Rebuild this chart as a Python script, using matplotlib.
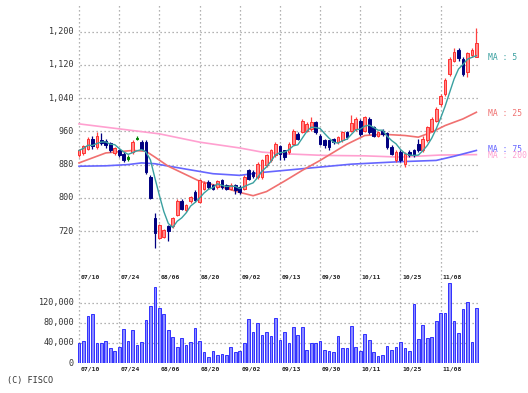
import numpy as np
import pandas as pd
import matplotlib
matplotlib.use("Agg")
import matplotlib.pyplot as plt

# daily bars, 07/10 .. 11/15
dates = ["07/10", "07/24", "08/06", "08/20", "09/02", "09/13", "09/30", "10/11", "10/25", "11/08"]
date_pos = [0, 9, 18, 27, 36, 45, 54, 63, 72, 81]

opens = [902, 908, 918, 942, 922, 938, 937, 931, 907, 914,
         906, 896, 910, 942, 934, 934, 850, 752, 704, 706,
         731, 731, 758, 792, 770, 792, 814, 790, 822, 838,
         830, 826, 842, 830, 822, 830, 826, 822, 866, 862,
         850, 850, 878, 890, 902, 924, 914, 910, 930, 954,
         959, 962, 966, 982, 950, 938, 938, 942, 934, 938,
         958, 962, 966, 986, 962, 990, 970, 950, 962, 955,
         922, 890, 910, 882, 910, 914, 930, 914, 938, 962,
         986, 1027, 1050, 1099, 1130, 1157, 1134, 1104, 1144, 1140]
highs = [918, 928, 946, 948, 958, 956, 942, 934, 922, 918,
         910, 904, 938, 948, 940, 938, 854, 763, 738, 726,
         734, 754, 796, 798, 786, 805, 818, 846, 840, 842,
         834, 842, 846, 834, 836, 834, 830, 854, 870, 866,
         886, 894, 906, 918, 934, 928, 916, 934, 966, 958,
         990, 982, 994, 986, 954, 942, 940, 944, 950, 962,
         960, 1000, 994, 990, 998, 994, 974, 962, 966, 958,
         926, 914, 914, 910, 914, 918, 942, 950, 974, 994,
         1018, 1050, 1088, 1138, 1160, 1160, 1138, 1152, 1160, 1208]
lows = [898, 904, 914, 918, 918, 926, 920, 910, 902, 898,
        886, 888, 906, 938, 914, 858, 798, 680, 700, 702,
        697, 728, 755, 770, 766, 788, 790, 788, 818, 822,
        818, 822, 822, 818, 818, 810, 810, 818, 842, 848,
        846, 846, 874, 886, 898, 890, 892, 906, 926, 938,
        955, 958, 962, 954, 926, 920, 916, 930, 930, 934,
        942, 958, 962, 950, 958, 954, 946, 946, 950, 918,
        902, 886, 886, 874, 898, 898, 910, 910, 934, 958,
        982, 1022, 1046, 1094, 1126, 1130, 1094, 1092, 1140, 1140]
closes = [914, 924, 942, 924, 950, 931, 926, 914, 919, 904,
          890, 896, 934, 942, 918, 862, 800, 716, 734, 722,
          719, 751, 792, 774, 782, 802, 794, 844, 836, 826,
          822, 840, 826, 822, 831, 818, 814, 850, 846, 852,
          882, 890, 902, 914, 930, 906, 898, 930, 962, 942,
          986, 978, 982, 958, 930, 926, 922, 934, 946, 958,
          946, 979, 990, 954, 994, 958, 950, 958, 954, 922,
          906, 910, 890, 906, 902, 902, 914, 942, 970, 990,
          1014, 1045, 1084, 1134, 1152, 1136, 1099, 1148, 1156, 1172]
volume = [40000, 44000, 95000, 98000, 40000, 41000, 44000, 31000, 25000, 32000,
          68000, 45000, 66000, 37000, 43000, 86000, 114000, 153000, 110000, 99000,
          66000, 53000, 32000, 50000, 37000, 43000, 71000, 44000, 23000, 13000,
          25000, 17000, 18000, 17000, 33000, 23000, 25000, 40000, 89000, 63000,
          81000, 56000, 63000, 54000, 91000, 47000, 63000, 40000, 72000, 57000,
          72000, 26000, 40000, 40000, 44000, 26000, 24000, 22000, 54000, 30000,
          30000, 74000, 32000, 24000, 59000, 47000, 22000, 15000, 17000, 35000,
          27000, 32000, 42000, 30000, 25000, 119000, 49000, 76000, 51000, 53000,
          84000, 101000, 101000, 160000, 84000, 61000, 108000, 123000, 42000, 111000]

# moving averages (bar index, price)
ma25_x = [0, 6, 12, 15, 17, 20, 27, 32, 36, 39, 42, 46, 50, 54, 60, 64, 68, 73, 76, 79, 82, 86, 89]
ma25_y = [884, 908, 914, 912, 898, 876, 840, 826, 813, 805, 815, 840, 866, 890, 929, 950, 953, 950, 946, 958, 974, 990, 1006]
ma75_x = [0, 6, 11, 14, 17, 24, 30, 36, 41, 50, 61, 72, 80, 84, 89]
ma75_y = [876, 877, 880, 884, 882, 869, 858, 854, 861, 870, 881, 887, 890, 900, 914]
ma200_x = [0, 9, 18, 27, 36, 41, 46, 55, 64, 72, 81, 89]
ma200_y = [978, 966, 954, 934, 920, 910, 906, 902, 901, 898, 903, 904]

price_ticks = [720, 800, 880, 960, 1040, 1120, 1200]
vol_ticks = [0, 40000, 80000, 120000]

W, H = 528, 393
fig = plt.figure(figsize=(W / 100, H / 100), dpi=100)
fig.patch.set_facecolor("white")

def box(left, top, right, bottom):
    return [left / W, 1 - bottom / H, (right - left) / W, (bottom - top) / H]

x0 = 79.0
step = 4.465
def xl(px):
    return (px - x0) / step

ax = fig.add_axes(box(75, 3, 480, 283))
axv = fig.add_axes(box(75, 283, 480, 363))
for a in (ax, axv):
    a.set_xlim(xl(75), xl(480))
    a.axis("off")
ax.set_ylim(594.8, 1269.1)
axv.set_ylim(0, 160000)

grid_kw = dict(color="#9a9a9a", linewidth=0.9, linestyle=(0, (1, 2.2)))
for p in date_pos:
    ax.axvline(p, **grid_kw, zorder=0)
    axv.axvline(p, **grid_kw, zorder=0)
ax.hlines(price_ticks, 0.2, xl(479), **grid_kw, zorder=0)
axv.hlines(vol_ticks[1:], 0.2, xl(479), **grid_kw, zorder=0)

idx = np.arange(len(closes))
o = np.array(opens); c = np.array(closes); hi = np.array(highs); lo = np.array(lows)

up = c > o
dn = c < o
eq = c == o
cols = np.where(up, "#ff4040", np.where(dn, "#000080", "#008000"))
ax.vlines(idx, lo, hi, colors=cols, linewidth=0.9, zorder=3)
ax.bar(idx[up], (c - o)[up], bottom=o[up], width=0.6,
       color="#ff8a8a", edgecolor="#ff3030", linewidth=0.7, zorder=4)
ax.bar(idx[dn], (o - c)[dn], bottom=c[dn], width=0.6,
       color="#000080", edgecolor="#000080", linewidth=0.7, zorder=4)
ax.bar(idx[eq], 3, bottom=o[eq] - 1.5, width=0.6,
       color="#008000", edgecolor="#008000", linewidth=0.7, zorder=4)

ma5 = pd.Series(closes).rolling(5, min_periods=1).mean()
ax.plot(ma200_x, ma200_y, color="#ffa0d0", linewidth=1.2, zorder=2)
ax.plot(ma75_x, ma75_y, color="#6666ff", linewidth=1.2, zorder=2)
ax.plot(ma25_x, ma25_y, color="#f07070", linewidth=1.2, zorder=2)
ax.plot(idx, ma5, color="#3aa0a0", linewidth=1.0, zorder=5)

axv.bar(idx, volume, width=0.6, color="#8c8cff", edgecolor="#3030ff",
        linewidth=0.7, zorder=3)

mono = "DejaVu Sans Mono"
txt = "#333333"
for p in price_ticks:
    ax.text(xl(74), p, f"{p:,}", ha="right", va="center", fontsize=6.1,
            family=mono, color=txt)
for v in vol_ticks:
    axv.text(xl(74), v, f"{v:,}", ha="right", va="center", fontsize=6.1,
             family=mono, color=txt)

for p, d in zip(date_pos, dates):
    fig.text((x0 + p * step + 1.5) / W, 1 - 277 / H, d, ha="left", va="center",
             fontsize=4.6, family=mono, weight="bold", color="#222222")
    fig.text((x0 + p * step + 1.5) / W, 1 - 369 / H, d, ha="left", va="center",
             fontsize=4.6, family=mono, weight="bold", color="#222222")

labels = [("MA : 5", 57, "#3aa0a0"), ("MA : 25", 113, "#f07070"),
          ("MA : 75", 150, "#6666ff"), ("MA : 200", 156, "#ffa0d0")]
for s, y, col in labels:
    fig.text(488 / W, 1 - y / H, s, ha="left", va="center", fontsize=5.8,
             family=mono, color=col)

fig.text(7 / W, 1 - 381 / H, "(C) FISCO", ha="left", va="center", fontsize=6.1,
         family=mono, color=txt)

fig.savefig("out.png", dpi=100)
